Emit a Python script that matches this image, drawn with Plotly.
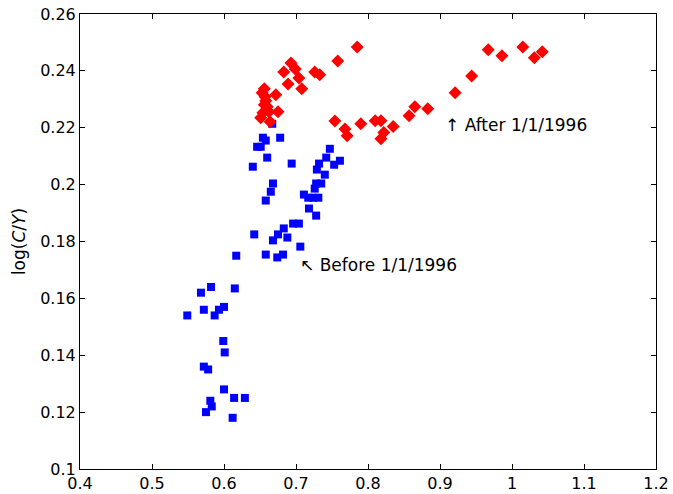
import plotly.graph_objects as go

# Before 1/1/1996 (blue squares)
before_x = [0.549, 0.568, 0.582, 0.615, 0.572, 0.593, 0.600, 0.587, 0.599, 0.601,
            0.572, 0.578, 0.600, 0.614, 0.629, 0.581, 0.583, 0.575, 0.612, 0.617,
            0.667, 0.654, 0.658, 0.678, 0.646, 0.651, 0.660, 0.694, 0.640, 0.747,
            0.742, 0.761, 0.753, 0.732, 0.729, 0.740, 0.668, 0.665, 0.658, 0.735,
            0.728, 0.726, 0.711, 0.717, 0.724, 0.731, 0.718, 0.728, 0.696, 0.704,
            0.683, 0.675, 0.688, 0.668, 0.642, 0.706, 0.658, 0.674, 0.682]
before_y = [0.154, 0.162, 0.164, 0.1635, 0.156, 0.156, 0.157, 0.154, 0.145, 0.141,
            0.136, 0.135, 0.128, 0.125, 0.125, 0.124, 0.122, 0.120, 0.118, 0.175,
            0.2214, 0.2165, 0.2155, 0.2165, 0.2133, 0.2133, 0.2095, 0.2074, 0.2063, 0.2126,
            0.2095, 0.2084, 0.207, 0.2074, 0.2053, 0.2035, 0.2004, 0.1975, 0.1944, 0.2004,
            0.2004, 0.1986, 0.1965, 0.1954, 0.1954, 0.1954, 0.1916, 0.1891, 0.1863, 0.1863,
            0.1846, 0.1825, 0.1814, 0.1804, 0.1825, 0.1782, 0.1754, 0.1744, 0.1754]

# After 1/1/1996 (red diamonds)
after_x = [0.785, 0.758, 0.693, 0.699, 0.683, 0.704, 0.726, 0.733, 0.689, 0.708,
           0.656, 0.653, 0.657, 0.658, 0.656, 0.660, 0.672, 0.675, 0.654, 0.651,
           0.664, 0.6625,
           0.754, 0.768, 0.771, 0.790, 0.810, 0.818, 0.822, 0.818, 0.835, 0.857,
           0.865, 0.883, 0.921, 0.944, 0.967, 0.986, 1.015, 1.031, 1.042]
after_y = [0.2484, 0.2435, 0.2428, 0.2407, 0.2396, 0.2375, 0.2396, 0.2386, 0.2354, 0.2337,
           0.2337, 0.2323, 0.2309, 0.2295, 0.2281, 0.2274, 0.2316, 0.2256, 0.2253, 0.2235,
           0.2221, 0.2256,
           0.2224, 0.2196, 0.2172, 0.2214, 0.2225, 0.2225, 0.2183, 0.2161, 0.2204, 0.2242,
           0.2274, 0.2267, 0.2323, 0.2382, 0.2474, 0.2453, 0.2484, 0.2446, 0.2467]

x_ticks = [0.4, 0.5, 0.6, 0.7, 0.8, 0.9, 1.0, 1.1, 1.2]
x_labels = ["0.4", "0.5", "0.6", "0.7", "0.8", "0.9", "1", "1.1", "1.2"]
y_ticks = [0.10, 0.12, 0.14, 0.16, 0.18, 0.20, 0.22, 0.24, 0.26]
y_labels = ["0.1", "0.12", "0.14", "0.16", "0.18", "0.2", "0.22", "0.24", "0.26"]

FONT = "DejaVu Sans"

fig = go.Figure()
fig.add_trace(go.Scatter(x=before_x, y=before_y, mode="markers",
                         marker=dict(symbol="square", size=8, color="#0000ff",
                                     line=dict(width=0)),
                         name="Before", showlegend=False))
fig.add_trace(go.Scatter(x=after_x, y=after_y, mode="markers",
                         marker=dict(symbol="diamond", size=10, color="#ff0000",
                                     line=dict(width=0)),
                         name="After", showlegend=False))

fig.add_annotation(x=0.904, y=0.221, text="\u2191 After 1/1/1996", showarrow=False,
                   xanchor="left", yanchor="middle",
                   font=dict(family=FONT, size=17, color="black"))
fig.add_annotation(x=0.703, y=0.1716, text="\u2196 Before 1/1/1996", showarrow=False,
                   xanchor="left", yanchor="middle",
                   font=dict(family=FONT, size=17, color="black"))

axis_common = dict(showgrid=False, zeroline=False, showline=True, linecolor="black",
                   linewidth=1, mirror="ticks", ticks="inside", ticklen=5,
                   tickcolor="black", automargin=False,
                   tickfont=dict(family=FONT, size=16, color="black"))

fig.update_xaxes(range=[0.4, 1.2], tickvals=x_ticks, ticktext=x_labels, **axis_common)
fig.update_yaxes(range=[0.1, 0.26], tickvals=y_ticks, ticktext=y_labels,
                 title=dict(text="log(<i>C</i>/<i>Y</i>)", standoff=10,
                            font=dict(family=FONT, size=17, color="black")),
                 **axis_common)

fig.update_layout(width=673, height=494, plot_bgcolor="white", paper_bgcolor="white",
                  margin=dict(l=80, r=17, t=14, b=25),
                  font=dict(family=FONT, size=16, color="black"))

fig.write_html("out.html")
